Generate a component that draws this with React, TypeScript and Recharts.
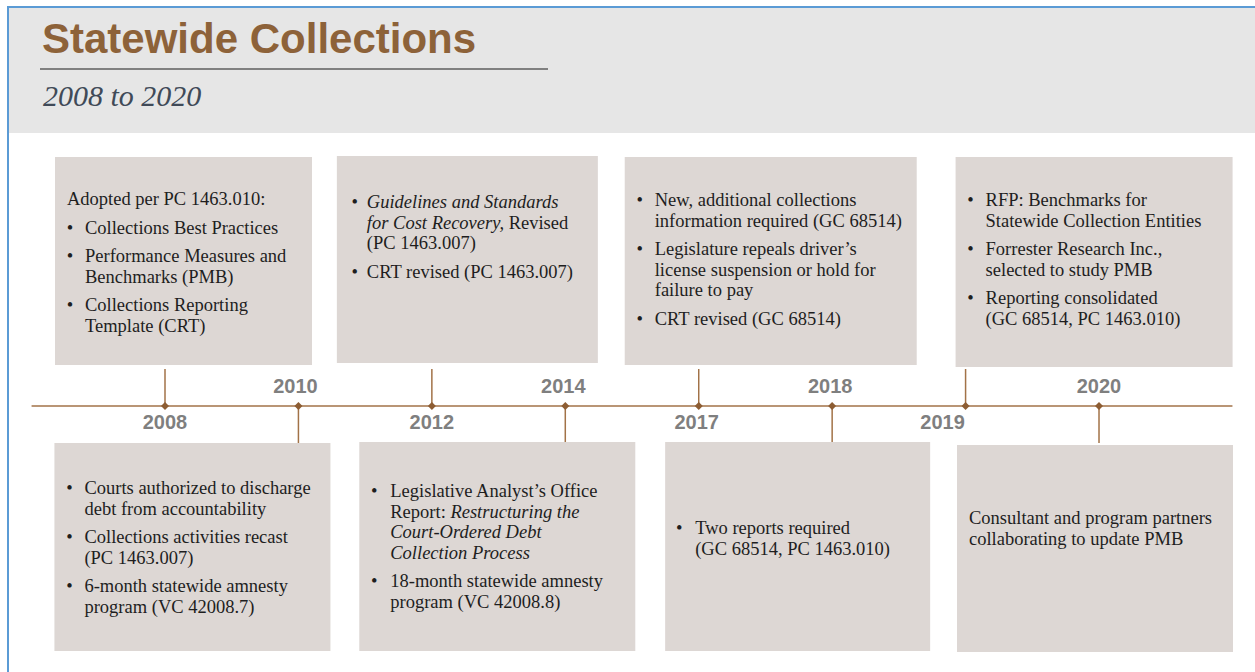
import React from 'react';
import { ScatterChart, Scatter, XAxis, YAxis, ReferenceLine, Customized } from 'recharts';

// ---------- data ----------
const TITLE = 'Statewide Collections';
const SUBTITLE = '2008 to 2020';

const YEARS = ['2008', '2010', '2012', '2014', '2017', '2018', '2019', '2020'];
const SIDES = ['above', 'below', 'above', 'below', 'above', 'below', 'above', 'below'];

type Part = { t: string; it?: boolean };
type Item = { bullet: boolean; lines: Part[][] };
const r = (t: string): Part => ({ t });
const it = (t: string): Part => ({ t, it: true });
const plain = (...ls: string[]) => ls.map((l) => [r(l)]);

const NOTES_2008: Item[] = [
  { bullet: false, lines: plain('Adopted per PC 1463.010:') },
  { bullet: true, lines: plain('Collections Best Practices') },
  { bullet: true, lines: plain('Performance Measures and', 'Benchmarks (PMB)') },
  { bullet: true, lines: plain('Collections Reporting', 'Template (CRT)') },
];
const NOTES_2010: Item[] = [
  { bullet: true, lines: plain('Courts authorized to discharge', 'debt from accountability') },
  { bullet: true, lines: plain('Collections activities recast', '(PC 1463.007)') },
  { bullet: true, lines: plain('6-month statewide amnesty', 'program (VC 42008.7)') },
];
const NOTES_2012: Item[] = [
  { bullet: true, lines: [[it('Guidelines and Standards')], [it('for Cost Recovery,'), r(' Revised')], [r('(PC 1463.007)')]] },
  { bullet: true, lines: plain('CRT revised (PC 1463.007)') },
];
const NOTES_2014: Item[] = [
  { bullet: true, lines: [[r('Legislative Analyst’s Office')], [r('Report: '), it('Restructuring the')], [it('Court-Ordered Debt')], [it('Collection Process')]] },
  { bullet: true, lines: plain('18-month statewide amnesty', 'program (VC 42008.8)') },
];
const NOTES_2017: Item[] = [
  { bullet: true, lines: plain('New, additional collections', 'information required (GC 68514)') },
  { bullet: true, lines: plain('Legislature repeals driver’s', 'license suspension or hold for', 'failure to pay') },
  { bullet: true, lines: plain('CRT revised (GC 68514)') },
];
const NOTES_2018: Item[] = [
  { bullet: true, lines: plain('Two reports required', '(GC 68514, PC 1463.010)') },
];
const NOTES_2019: Item[] = [
  { bullet: true, lines: plain('RFP: Benchmarks for', 'Statewide Collection Entities') },
  { bullet: true, lines: plain('Forrester Research Inc.,', 'selected to study PMB') },
  { bullet: true, lines: plain('Reporting consolidated', '(GC 68514, PC 1463.010)') },
];
const NOTES_2020: Item[] = [
  { bullet: false, lines: plain('Consultant and program partners', 'collaborating to update PMB') },
];
const NOTES = [NOTES_2008, NOTES_2010, NOTES_2012, NOTES_2014, NOTES_2017, NOTES_2018, NOTES_2019, NOTES_2020];

const events = YEARS.map((year, idx) => ({ idx, level: 0, year, side: SIDES[idx], notes: NOTES[idx] }));

// ---------- layout (pixels, relative to each timeline point) ----------
const LAYOUT = [
  { dx: -110, w: 257, top: -249, h: 208, firstBase: 48, bulletX: 15, textX: 30, plainX: 12, labelDx: 0 },
  { dx: -244, w: 276, top: 37, h: 208, firstBase: 51, bulletX: 15, textX: 30, plainX: 12, labelDx: -3 },
  { dx: -95, w: 261, top: -250, h: 207, firstBase: 52, bulletX: 18, textX: 30, plainX: 12, labelDx: 0 },
  { dx: -206, w: 276, top: 36, h: 209, firstBase: 55, bulletX: 15, textX: 31, plainX: 12, labelDx: -2 },
  { dx: -74, w: 292, top: -249, h: 208, firstBase: 49, bulletX: 15, textX: 30, plainX: 12, labelDx: -2 },
  { dx: -167, w: 265, top: 36, h: 209, firstBase: 92, bulletX: 14, textX: 30, plainX: 12, labelDx: -2 },
  { dx: -10, w: 277, top: -249, h: 210, firstBase: 49, bulletX: 15, textX: 30, plainX: 12, labelDx: -23 },
  { dx: -142, w: 276, top: 39, h: 207, firstBase: 79, bulletX: 12, textX: 30, plainX: 12, labelDx: 0 },
];

const W = 1255;
const H = 672;
const STEP = 133.43;
const X0 = 165;
const LINE_Y = 406;
const X_DOMAIN: [number, number] = [-X0 / STEP, -X0 / STEP + W / STEP];
const Y_DOMAIN: [number, number] = [LINE_Y - H, LINE_Y];

const BROWN = '#8d5d33';
const LINE_BROWN = '#a27247';
const BOX_FILL = '#ddd7d4';
const BODY_FONT = '"Liberation Serif", "Times New Roman", serif';
const LABEL_FONT = '"Liberation Sans", Arial, sans-serif';
const LINE_H = 20.5;
const ITEM_GAP = 8;

const Header = () => (
  <g>
    <rect x={9} y={8} width={W - 9} height={125} fill="#e6e6e6" />
    <line x1={7} y1={7} x2={W} y2={7} stroke="#5b9bd5" strokeWidth={2} />
    <line x1={8} y1={6} x2={8} y2={H} stroke="#5b9bd5" strokeWidth={2} />
    <text x={42} y={53} fontFamily={LABEL_FONT} fontWeight="bold" fontSize={42} fill="#8d6239">
      {TITLE}
    </text>
    <line x1={40} y1={69} x2={548} y2={69} stroke="#808080" strokeWidth={2} />
    <text x={43} y={106} fontFamily={BODY_FONT} fontStyle="italic" fontSize={30} fill="#404a58">
      {SUBTITLE}
    </text>
  </g>
);

const EventShape = (props: any) => {
  const { cx, cy, payload } = props;
  const L = LAYOUT[payload.idx];
  const above = payload.side === 'above';
  const bx = cx + L.dx;
  const by = cy + L.top;
  const texts: React.ReactNode[] = [];
  let y = by + L.firstBase;
  (payload.notes as Item[]).forEach((item, ii) => {
    item.lines.forEach((parts, li) => {
      if (item.bullet && li === 0) {
        texts.push(
          <text key={`b${ii}`} x={bx + L.bulletX} y={y} textAnchor="middle" fontFamily={BODY_FONT} fontSize={18.5} fill="#1e1e1e">
            •
          </text>
        );
      }
      texts.push(
        <text key={`t${ii}-${li}`} x={bx + (item.bullet ? L.textX : L.plainX)} y={y} fontFamily={BODY_FONT} fontSize={18.5} fill="#1e1e1e" style={{ whiteSpace: 'pre' }}>
          {parts.map((p, pi) => (
            <tspan key={pi} fontStyle={p.it ? 'italic' : 'normal'}>
              {p.t}
            </tspan>
          ))}
        </text>
      );
      y += LINE_H;
    });
    y += ITEM_GAP;
  });
  const d = 4;
  return (
    <g>
      <line x1={cx} y1={cy} x2={cx} y2={above ? cy - 37 : cy + 37} stroke={LINE_BROWN} strokeWidth={1.5} />
      <rect x={bx} y={by} width={L.w} height={L.h} fill={BOX_FILL} />
      {texts}
      <text
        x={cx + L.labelDx}
        y={above ? cy + 23 : cy - 13}
        textAnchor="middle"
        fontFamily={LABEL_FONT}
        fontWeight="bold"
        fontSize={20}
        fill="#7f7f7f"
      >
        {payload.year}
      </text>
      <path d={`M${cx},${cy - d} L${cx + d},${cy} L${cx},${cy + d} L${cx - d},${cy} Z`} fill={BROWN} />
    </g>
  );
};

export default function App() {
  return (
    <div style={{ position: 'fixed', left: 0, top: 0, width: W, height: H, background: '#ffffff' }}>
      <ScatterChart width={W} height={H} margin={{ top: 0, right: 0, bottom: 0, left: 0 }}>
        <Customized component={Header} />
        <XAxis type="number" dataKey="idx" domain={X_DOMAIN} allowDataOverflow hide />
        <YAxis type="number" dataKey="level" domain={Y_DOMAIN} allowDataOverflow hide />
        <ReferenceLine
          segment={[
            { x: -1, y: 0 },
            { x: YEARS.length, y: 0 },
          ]}
          stroke={LINE_BROWN}
          strokeWidth={1.5}
        />
        <Scatter data={events} dataKey="level" shape={EventShape} isAnimationActive={false} />
      </ScatterChart>
    </div>
  );
}
